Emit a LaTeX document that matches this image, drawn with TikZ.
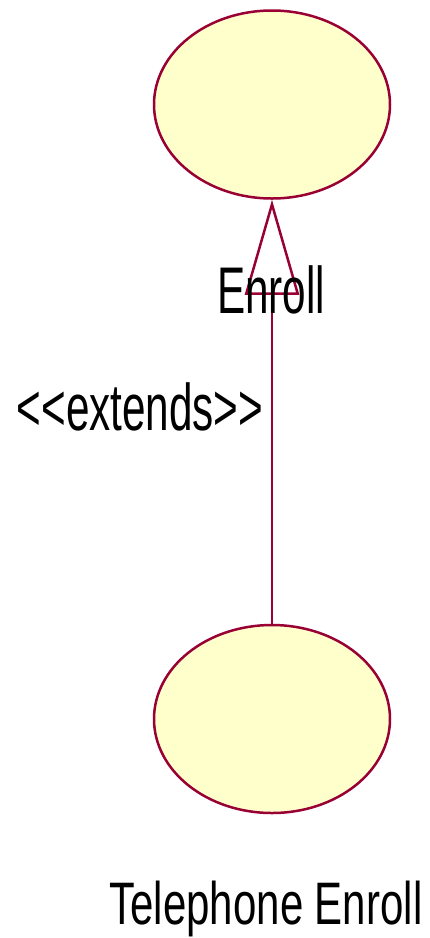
\documentclass[tikz,border=0pt]{standalone}
\usepackage{fontspec}
\setmainfont{Liberation Sans}
\usetikzlibrary{shapes.geometric,arrows.meta}
\definecolor{ucfill}{HTML}{FFFFCC}
\definecolor{ucline}{HTML}{990033}
\tikzset{
  usecase/.style={ellipse, draw=ucline, fill=ucfill, line width=2.5pt, minimum width=236pt, minimum height=188pt, inner sep=0pt},
  lbl/.style={anchor=base, inner sep=0pt, font=\fontsize{66}{66}\selectfont},
  conn/.style={draw=ucline, line width=2.5pt, -{Triangle[open, length=95pt, width=54pt, line width=2.5pt]}}
}
\newcommand{\nar}[2][0.64]{\scalebox{#1}[1]{#2}}
\begin{document}
\begin{tikzpicture}[x=1pt,y=-1pt]
\useasboundingbox (0,0) rectangle (430,938);
\node[usecase] (enroll) at (272,104.5) {};
\node[usecase] (tel) at (272,719) {};
\draw[conn] (tel.north) -- (enroll.south);
\node[lbl] (enrollLbl) at (271,313) {\nar{Enroll}};
\node[lbl] (extLbl) at (140,430) {\nar{<{}<extends>{}>}};
\node[lbl, font=\fontsize{60}{60}\selectfont] (telLbl) at (266,924) {\nar[0.70]{Telephone Enroll}};
\end{tikzpicture}
\end{document}
